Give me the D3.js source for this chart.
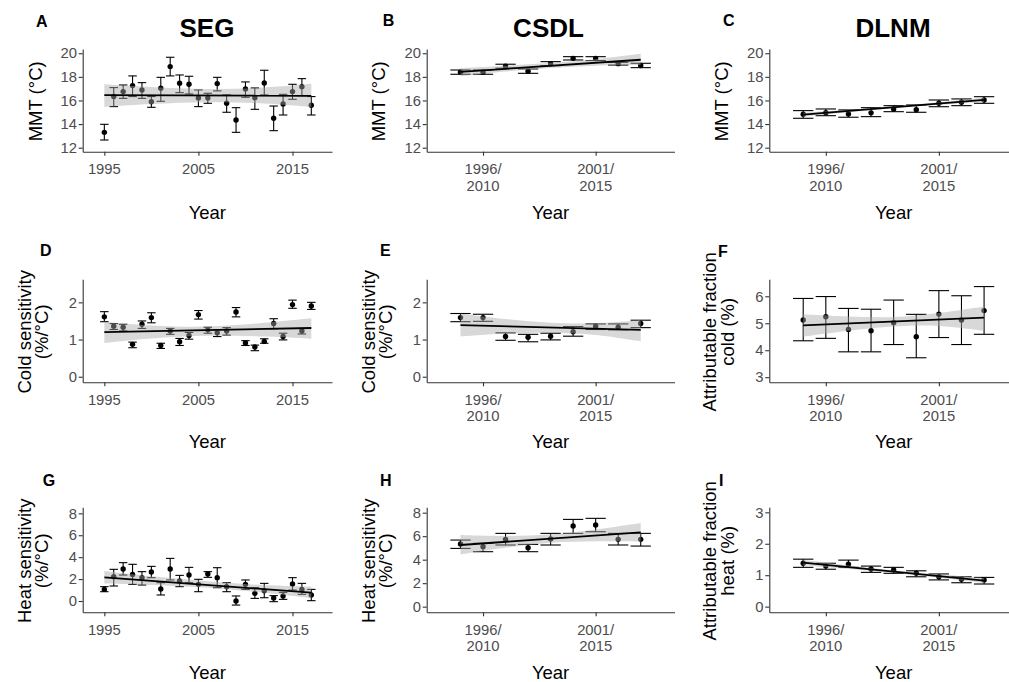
<!DOCTYPE html>
<html><head><meta charset="utf-8">
<script src="https://cdn.jsdelivr.net/npm/d3@7"></script>
<style>
body{margin:0;background:#fff}
svg{display:block}
text{font-family:"Liberation Sans",Arial,Helvetica,sans-serif}
</style>
</head><body>
<svg id="chart" width="1009" height="682"></svg>
<script>
// ---------- categories ----------
const years = [1995,1996,1997,1998,1999,2000,2001,2002,2003,2004,2005,2006,2007,2008,2009,2010,2011,2012,2013,2014,2015,2016,2017];
const windows = ["1995/2009","1996/2010","1997/2011","1998/2012","1999/2013","2000/2014","2001/2015","2002/2016","2003/2017"];
const yearTicks = [1995,2005,2015];
const windowTicks = ["1996/2010","2001/2015"];
const bandYears = [1995,2000,2006,2012,2017];
const bandWindows = ["1995/2009","1997/2011","1999/2013","2001/2015","2003/2017"];

const columnTitles = ["SEG","CSDL","DLNM"];
const panelLetters = ["A","B","C","D","E","F","G","H","I"];

// ---------- A: SEG MMT ----------
const segMmtEst = [13.30,16.33,16.75,17.26,16.89,15.90,17.03,18.87,17.46,17.37,16.21,16.21,17.43,15.76,14.35,16.98,16.24,17.48,14.49,15.70,16.75,17.17,15.59];
const segMmtLo  = [12.65,15.48,16.18,16.33,16.18,15.42,15.93,18.08,16.66,16.55,15.48,15.76,16.81,15.00,13.30,16.27,15.25,16.47,13.44,14.77,16.10,16.41,14.77];
const segMmtHi  = [13.98,17.09,17.31,18.08,17.51,16.33,17.96,19.66,18.16,18.05,16.89,16.61,17.96,16.47,15.39,17.57,17.06,18.56,15.53,16.52,17.37,17.85,16.33];
const segMmtFit = [16.46,16.40];
const segMmtBandLo = [15.45,15.70,15.85,15.75,15.45];
const segMmtBandHi = [17.38,17.15,16.98,17.10,17.42];

// ---------- B: CSDL MMT ----------
const csdlMmtEst = [18.40,18.40,18.90,18.48,19.12,19.57,19.55,19.12,18.96];
const csdlMmtLo  = [18.22,18.22,18.73,18.30,18.95,19.43,19.38,19.00,18.78];
const csdlMmtHi  = [18.58,18.58,19.07,18.67,19.29,19.71,19.71,19.23,19.15];
const csdlMmtFit = [18.42,19.45];
const csdlMmtBandLo = [18.05,18.45,18.75,18.95,19.00];
const csdlMmtBandHi = [18.75,18.95,19.20,19.50,19.95];

// ---------- C: DLNM MMT ----------
const dlnmMmtEst = [14.83,14.97,14.86,14.95,15.28,15.22,15.76,15.85,16.04];
const dlnmMmtLo  = [14.49,14.71,14.58,14.63,15.05,15.00,15.47,15.56,15.76];
const dlnmMmtHi  = [15.14,15.28,15.20,15.39,15.56,15.62,16.04,16.13,16.32];
const dlnmMmtFit = [14.80,16.05];
const dlnmMmtBandLo = [14.63,15.00,15.35,15.64,15.88];
const dlnmMmtBandHi = [14.97,15.22,15.50,15.84,16.22];

// ---------- D: SEG cold sensitivity ----------
const segColdEst = [1.61,1.36,1.33,0.87,1.41,1.59,0.84,1.23,0.94,1.11,1.67,1.26,1.18,1.23,1.74,0.91,0.80,0.95,1.43,1.08,1.94,1.23,1.90];
const segColdLo  = [1.48,1.27,1.23,0.78,1.30,1.45,0.76,1.14,0.84,1.01,1.55,1.17,1.08,1.12,1.61,0.84,0.70,0.90,1.29,0.99,1.84,1.15,1.81];
const segColdHi  = [1.75,1.43,1.41,0.93,1.50,1.72,0.90,1.30,1.03,1.19,1.78,1.33,1.26,1.32,1.86,0.97,0.85,1.02,1.56,1.17,2.06,1.30,2.00];
const segColdFit = [1.20,1.31];
const segColdBandLo = [0.91,1.03,1.10,1.08,1.02];
const segColdBandHi = [1.48,1.38,1.35,1.45,1.57];

// ---------- E: CSDL cold sensitivity ----------
const csdlColdEst = [1.59,1.59,1.08,1.06,1.09,1.21,1.36,1.33,1.43];
const csdlColdLo  = [1.48,1.49,0.98,0.94,0.99,1.09,1.27,1.26,1.32];
const csdlColdHi  = [1.70,1.68,1.18,1.14,1.17,1.35,1.42,1.42,1.52];
const csdlColdFit = [1.39,1.26];
const csdlColdBandLo = [1.08,1.16,1.18,1.12,0.95];
const csdlColdBandHi = [1.70,1.55,1.45,1.44,1.52];

// ---------- F: DLNM attributable fraction cold ----------
const dlnmColdEst = [5.12,5.24,4.77,4.72,5.02,4.50,5.34,5.12,5.47];
const dlnmColdLo  = [4.35,4.44,3.94,3.94,4.21,3.72,4.47,4.21,4.59];
const dlnmColdHi  = [5.92,5.99,5.55,5.52,5.86,5.33,6.21,6.02,6.36];
const dlnmColdFit = [4.92,5.21];
const dlnmColdBandLo = [4.50,4.72,4.88,4.90,4.72];
const dlnmColdBandHi = [5.33,5.25,5.23,5.38,5.62];

// ---------- G: SEG heat sensitivity ----------
const segHeatEst = [1.06,2.22,2.92,2.43,2.13,2.65,1.10,2.92,1.83,2.37,1.52,2.46,2.13,1.31,0.00,1.52,0.70,0.94,0.27,0.46,1.55,1.06,0.55];
const segHeatLo  = [0.85,1.37,2.37,1.52,1.46,2.13,0.55,1.92,1.31,1.67,0.85,2.16,1.22,0.85,-0.37,1.06,0.24,0.30,-0.06,0.15,1.00,0.61,0.03];
const segHeatHi  = [1.31,2.89,3.50,3.35,2.68,3.16,1.67,3.89,2.34,3.07,1.98,2.68,3.04,1.67,0.46,1.92,1.22,1.61,0.49,0.79,2.13,1.61,1.06];
const segHeatFit = [2.16,0.76];
const segHeatBandLo = [1.60,1.45,1.20,0.75,0.25];
const segHeatBandHi = [2.74,2.25,1.80,1.45,1.30];

// ---------- H: CSDL heat sensitivity ----------
const csdlHeatEst = [5.33,5.11,5.73,5.02,5.76,6.87,6.95,5.73,5.73];
const csdlHeatLo  = [4.96,4.68,5.25,4.68,5.25,6.24,6.38,5.25,5.16];
const csdlHeatHi  = [5.67,5.39,6.24,5.30,6.24,7.43,7.52,6.24,6.24];
const csdlHeatFit = [5.25,6.33];
const csdlHeatBandLo = [4.45,5.02,5.44,5.56,5.55];
const csdlHeatBandHi = [6.10,6.02,6.14,6.56,7.12];

// ---------- I: DLNM attributable fraction heat ----------
const dlnmHeatEst = [1.38,1.29,1.35,1.20,1.17,1.06,0.95,0.87,0.85];
const dlnmHeatLo  = [1.25,1.19,1.25,1.09,1.06,0.95,0.85,0.76,0.72];
const dlnmHeatHi  = [1.51,1.38,1.48,1.29,1.25,1.14,1.04,0.95,0.93];
const dlnmHeatFit = [1.40,0.83];
const dlnmHeatBandLo = [1.32,1.20,1.08,0.92,0.75];
const dlnmHeatBandHi = [1.48,1.31,1.15,1.03,0.91];

// ---------- y ticks ----------
const mmtTicks = [12,14,16,18,20];
const sensColdTicks = [0,1,2];
const afColdTicks = [3,4,5,6];
const sensHeatTicks = [0,2,4,6,8];
const afHeatTicks = [0,1,2,3];

// ---------- layout (positions only) ----------
const cols = [{l:82.7,r:332},{l:426.7,r:674.5},{l:769.3,r:1018}];
const rows = [{t:49,b:151.7},{t:279.3,b:382.3},{t:507.3,b:612.3}];
const yearDomain = [1992.7,2019.2];
const winDomain = [-1.5,9.5];

const panels = [
  {row:0,col:0,yd:[11.66,20.36],ticks:mmtTicks,est:segMmtEst,lo:segMmtLo,hi:segMmtHi,fit:segMmtFit,bLo:segMmtBandLo,bHi:segMmtBandHi,ylab:["MMT (°C)"]},
  {row:0,col:1,yd:[11.66,20.36],ticks:mmtTicks,est:csdlMmtEst,lo:csdlMmtLo,hi:csdlMmtHi,fit:csdlMmtFit,bLo:csdlMmtBandLo,bHi:csdlMmtBandHi,ylab:["MMT (°C)"]},
  {row:0,col:2,yd:[11.66,20.36],ticks:mmtTicks,est:dlnmMmtEst,lo:dlnmMmtLo,hi:dlnmMmtHi,fit:dlnmMmtFit,bLo:dlnmMmtBandLo,bHi:dlnmMmtBandHi,ylab:["MMT (°C)"]},
  {row:1,col:0,yd:[-0.15,2.62],ticks:sensColdTicks,est:segColdEst,lo:segColdLo,hi:segColdHi,fit:segColdFit,bLo:segColdBandLo,bHi:segColdBandHi,ylab:["Cold sensitivity","(%/°C)"]},
  {row:1,col:1,yd:[-0.15,2.62],ticks:sensColdTicks,est:csdlColdEst,lo:csdlColdLo,hi:csdlColdHi,fit:csdlColdFit,bLo:csdlColdBandLo,bHi:csdlColdBandHi,ylab:["Cold sensitivity","(%/°C)"]},
  {row:1,col:2,yd:[2.81,6.63],ticks:afColdTicks,est:dlnmColdEst,lo:dlnmColdLo,hi:dlnmColdHi,fit:dlnmColdFit,bLo:dlnmColdBandLo,bHi:dlnmColdBandHi,ylab:["Attributable fraction","cold (%)"]},
  {row:2,col:0,yd:[-1.03,8.55],ticks:sensHeatTicks,est:segHeatEst,lo:segHeatLo,hi:segHeatHi,fit:segHeatFit,bLo:segHeatBandLo,bHi:segHeatBandHi,ylab:["Heat sensitivity","(%/°C)"]},
  {row:2,col:1,yd:[-0.48,8.46],ticks:sensHeatTicks,est:csdlHeatEst,lo:csdlHeatLo,hi:csdlHeatHi,fit:csdlHeatFit,bLo:csdlHeatBandLo,bHi:csdlHeatBandHi,ylab:["Heat sensitivity","(%/°C)"]},
  {row:2,col:2,yd:[-0.18,3.16],ticks:afHeatTicks,est:dlnmHeatEst,lo:dlnmHeatLo,hi:dlnmHeatHi,fit:dlnmHeatFit,bLo:dlnmHeatBandLo,bHi:dlnmHeatBandHi,ylab:["Attributable fraction","heat (%)"]}
];

// y-title baselines (x) per column, for 1- and 2-line titles
const ylabX1 = [41.7,384.5,728.3];
const ylabX2 = [[31,47.5],[375,391.5],[716,734]];
const letterPos = [[36,26.7],[382.7,26.3],[723,26.3],[40,256],[380,256],[718,256.5],[42.7,486],[380,486],[719,485.5]];
const titleX = [207,548.5,893];

const svg = d3.select("#chart");
const TICK_FS = 14.8, TITLE_FS = 18.5;

panels.forEach((p,i)=>{
  const C = cols[p.col], R = rows[p.row];
  const isYear = p.col===0;
  const cats = isYear ? years : windows;
  const x = d3.scaleLinear().domain(isYear?yearDomain:winDomain).range([C.l,C.r]);
  const xv = c => isYear ? x(c) : x(windows.indexOf(c));
  const y = d3.scaleLinear().domain(p.yd).range([R.b,R.t]);
  const g = svg.append("g");
  const capHalf = 0.45;
  const capPx = isYear ? (x(1995+capHalf)-x(1995)) : (x(capHalf)-x(0));

  // error bars
  const eb = g.append("g").attr("stroke","#000").attr("stroke-width",1.1).attr("fill","none");
  cats.forEach((c,k)=>{
    const cx = xv(c);
    eb.append("line").attr("x1",cx).attr("x2",cx).attr("y1",y(p.lo[k])).attr("y2",y(p.hi[k]));
    eb.append("line").attr("x1",cx-capPx).attr("x2",cx+capPx).attr("y1",y(p.lo[k])).attr("y2",y(p.lo[k]));
    eb.append("line").attr("x1",cx-capPx).attr("x2",cx+capPx).attr("y1",y(p.hi[k])).attr("y2",y(p.hi[k]));
  });
  // points
  g.append("g").selectAll("circle").data(cats).join("circle")
    .attr("cx",c=>xv(c)).attr("cy",(c,k)=>y(p.est[k])).attr("r",2.7).attr("fill","#000");

  // CI band
  const bx = isYear ? bandYears : bandWindows;
  const area = d3.area().x((d,k)=>xv(bx[k])).y0((d,k)=>y(p.bLo[k])).y1((d,k)=>y(p.bHi[k])).curve(d3.curveCatmullRom);
  g.append("path").datum(bx).attr("d",area).attr("fill","#a8a8a8").attr("fill-opacity",0.45);

  // fitted line
  const ends = [cats[0], cats[cats.length-1]];
  g.append("path").datum(ends)
    .attr("d", d3.line().x(c=>xv(c)).y((c,k)=>y(p.fit[k])))
    .attr("stroke","#000").attr("stroke-width",1.8).attr("fill","none");

  // axes
  const ya = g.append("g").attr("transform",`translate(${C.l},0)`)
    .call(d3.axisLeft(y).tickValues(p.ticks).tickSize(4).tickSizeOuter(0).tickPadding(1.8).tickFormat(d3.format("d")));
  const xTickVals = isYear ? yearTicks : windowTicks.map(w=>windows.indexOf(w));
  const xa = g.append("g").attr("transform",`translate(0,${R.b})`)
    .call(d3.axisBottom(x).tickValues(xTickVals).tickSize(4).tickSizeOuter(0).tickFormat(""));
  [ya,xa].forEach(a=>{
    a.select(".domain").attr("stroke","#333").attr("stroke-width",1.1);
    a.selectAll(".tick line").attr("stroke","#333").attr("stroke-width",1.1);
  });
  ya.selectAll(".tick text").attr("font-size",TICK_FS).attr("fill","#4d4d4d")
    .attr("font-family",'"Liberation Sans",Arial,sans-serif');

  // x tick labels
  if (isYear) {
    yearTicks.forEach(t=>{
      g.append("text").attr("x",x(t)).attr("y",R.b+22.6).attr("text-anchor","middle")
        .attr("font-size",TICK_FS).attr("fill","#4d4d4d").text(t);
    });
  } else {
    windowTicks.forEach(w=>{
      const parts = w.split("/");
      const t = g.append("text").attr("text-anchor","middle").attr("font-size",TICK_FS).attr("fill","#4d4d4d");
      t.append("tspan").attr("x",xv(w)).attr("y",R.b+22.3).text(parts[0]+"/");
      t.append("tspan").attr("x",xv(w)).attr("y",R.b+39).text(parts[1]);
    });
  }

  // x title
  g.append("text").attr("x",(C.l+C.r)/2).attr("y",[218.5,447.5,678.5][p.row])
    .attr("text-anchor","middle").attr("font-size",TITLE_FS).attr("fill","#000").text("Year");

  // y title
  const cy = (R.t+R.b)/2 + 1;
  p.ylab.forEach((line,k)=>{
    const bxp = p.ylab.length===1 ? ylabX1[p.col] : ylabX2[p.col][k];
    g.append("text").attr("transform",`translate(${bxp},${cy}) rotate(-90)`)
      .attr("text-anchor","middle").attr("font-size",TITLE_FS).attr("fill","#000").text(line);
  });

  // panel letter
  svg.append("text").attr("x",letterPos[i][0]).attr("y",letterPos[i][1])
    .attr("font-size",16).attr("font-weight","bold").attr("fill","#000").text(panelLetters[i]);
});

// column titles
columnTitles.forEach((t,k)=>{
  svg.append("text").attr("x",titleX[k]).attr("y",37).attr("text-anchor","middle")
    .attr("font-size",26).attr("font-weight","bold").attr("fill","#000").text(t);
});
</script>
</body></html>
